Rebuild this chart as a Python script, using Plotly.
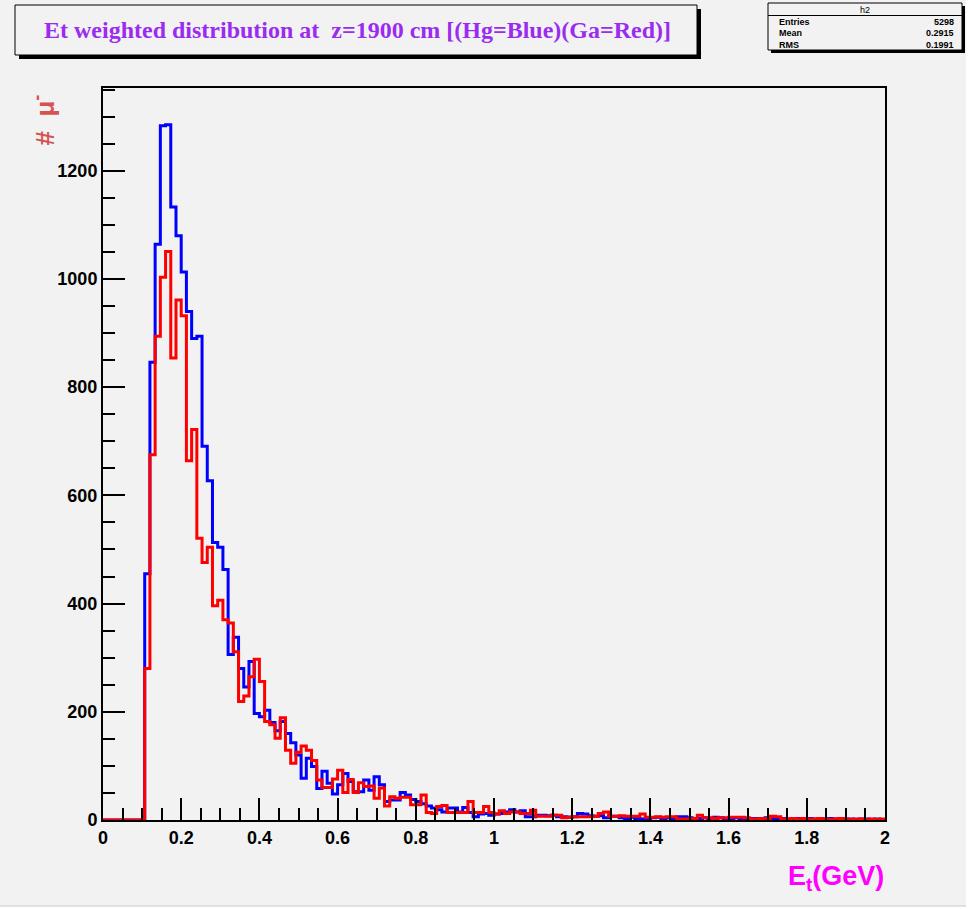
import plotly.graph_objects as go
import numpy as np

# ---------------- data ----------------
bin_lo, bin_hi, n_bins = 0.0, 2.0, 150

hg_blue = [0, 0, 0, 0, 0, 0, 0, 0,
           455, 846, 1064, 1283, 1285, 1133, 1080, 1013, 940, 890,
           894, 691, 627, 513, 504, 463, 306, 338, 280, 246,
           293, 197, 191, 203, 180, 165, 182, 160, 143, 120,
           77, 114, 99, 58, 90, 68, 48, 65, 86, 71,
           52, 52, 74, 55, 80, 65, 34, 37, 37, 51,
           46, 38, 34, 30, 26, 22, 19, 15, 22, 22,
           15, 23, 14, 6, 11, 12, 9, 11, 12, 15,
           19, 15, 17, 6, 6, 9, 9, 8, 9, 6,
           6, 5, 6, 12, 11, 8, 7, 8, 4, 7,
           7, 4, 3, 5, 3, 2, 3, 4, 5, 3,
           4, 3, 6, 6, 4, 3, 3, 4, 3, 5,
           4, 3, 2, 4, 3, 2, 3, 3, 2, 4,
           3, 2, 3, 2, 2, 3, 2, 3, 2, 1,
           2, 3, 2, 1, 2, 2, 1, 2, 2, 1,
           2, 1]

ga_red = [0, 0, 0, 0, 0, 0, 0, 0,
          280, 675, 894, 1003, 1051, 854, 961, 932, 664, 722,
          521, 476, 504, 396, 406, 370, 364, 311, 219, 229,
          265, 297, 256, 182, 176, 151, 189, 129, 105, 125,
          137, 129, 110, 74, 60, 60, 76, 92, 51, 75,
          51, 69, 62, 63, 40, 59, 26, 43, 40, 42,
          42, 28, 28, 46, 14, 12, 25, 27, 14, 14,
          14, 14, 34, 14, 14, 25, 14, 11, 17, 12,
          15, 15, 12, 12, 18, 7, 7, 7, 9, 9,
          4, 5, 6, 6, 6, 6, 7, 12, 15, 7,
          7, 8, 7, 7, 7, 11, 5, 5, 6, 5,
          6, 6, 2, 2, 2, 3, 9, 4, 4, 3,
          4, 4, 5, 5, 5, 4, 2, 2, 3, 2,
          7, 6, 2, 2, 3, 2, 3, 2, 2, 3,
          2, 1, 2, 3, 2, 1, 2, 2, 1, 2,
          1, 2]

y_ticks = [0, 200, 400, 600, 800, 1000, 1200]
x_ticks = [0, 0.2, 0.4, 0.6, 0.8, 1, 1.2, 1.4, 1.6, 1.8, 2]
x_tick_text = ["0", "0.2", "0.4", "0.6", "0.8", "1", "1.2", "1.4", "1.6", "1.8", "2"]

title_text = "Et weighted distribution at  z=1900 cm [(Hg=Blue)(Ga=Red)]"
stat_name = "h2"
stat_rows = [("Entries", "5298"), ("Mean", "0.2915"), ("RMS", "0.1991")]

# ---------------- layout helpers ----------------
W, H = 970, 909
L, R, T, B = 103, 885, 88, 820


def px(x):
    return (x - L) / (R - L)


def py(y):
    return (B - y) / (B - T)


edges = np.linspace(bin_lo, bin_hi, n_bins + 1)

fig = go.Figure()
for vals, col in [(hg_blue, "#0000ff"), (ga_red, "#ff0000")]:
    yv = list(vals) + [vals[-1]]
    fig.add_trace(go.Scatter(x=edges, y=yv, mode="lines",
                             line=dict(shape="hv", color=col, width=3),
                             showlegend=False, hoverinfo="skip"))

BG = "#f2f2f2"
tickfont = dict(family="Liberation Sans", size=18, color="black", weight="bold")

fig.update_layout(
    width=W, height=H,
    margin=dict(l=L, r=W - R, t=T, b=H - B, pad=0),
    paper_bgcolor="white",
    plot_bgcolor=BG,
    xaxis=dict(range=[bin_lo, bin_hi], tickvals=x_ticks, ticktext=x_tick_text,
               ticks="inside", ticklen=22, tickwidth=1.5, tickcolor="black",
               minor=dict(dtick=0.05, ticks="inside", ticklen=12, tickwidth=1.5, tickcolor="black"),
               showline=True, linecolor="black", linewidth=2, mirror=True,
               showgrid=False, zeroline=False, tickfont=tickfont),
    yaxis=dict(range=[0, 1353], tickvals=y_ticks,
               ticks="inside", ticklen=22, tickwidth=1.5, tickcolor="black",
               minor=dict(dtick=50, ticks="inside", ticklen=12, tickwidth=1.5, tickcolor="black"),
               showline=True, linecolor="black", linewidth=2, mirror=True,
               showgrid=False, zeroline=False, tickfont=tickfont),
)

shapes = []
# canvas background
shapes.append(dict(type="rect", xref="paper", yref="paper", x0=px(0), x1=px(966), y0=py(0), y1=py(906),
                   fillcolor=BG, line=dict(width=0), layer="below"))
shapes.append(dict(type="line", xref="paper", yref="paper", x0=px(0), x1=px(966), y0=py(906), y1=py(906),
                   line=dict(color="#c8c8c8", width=1), layer="below"))
# title box + shadow
shapes.append(dict(type="rect", xref="paper", yref="paper", x0=px(19), x1=px(701), y0=py(9), y1=py(59),
                   fillcolor="black", line=dict(width=0)))
shapes.append(dict(type="rect", xref="paper", yref="paper", x0=px(15), x1=px(697), y0=py(5), y1=py(55),
                   fillcolor=BG, line=dict(color="black", width=1)))
# stat box + shadow
shapes.append(dict(type="rect", xref="paper", yref="paper", x0=px(771), x1=px(965), y0=py(6), y1=py(53),
                   fillcolor="black", line=dict(width=0)))
shapes.append(dict(type="rect", xref="paper", yref="paper", x0=px(768), x1=px(962), y0=py(3), y1=py(50),
                   fillcolor=BG, line=dict(color="black", width=1)))
shapes.append(dict(type="line", xref="paper", yref="paper", x0=px(768), x1=px(962), y0=py(15.5), y1=py(15.5),
                   line=dict(color="black", width=1)))
fig.update_layout(shapes=shapes)

ann = []
ann.append(dict(text=title_text, xref="paper", yref="paper", x=px(357), y=py(30),
                xanchor="center", yanchor="middle", showarrow=False,
                font=dict(family="Liberation Serif", size=24, color="#9a2cf0", weight="bold")))
ann.append(dict(text=stat_name, xref="paper", yref="paper", x=px(865), y=py(9.5),
                xanchor="center", yanchor="middle", showarrow=False,
                font=dict(family="Liberation Sans", size=9, color="black")))
for i, (k, v) in enumerate(stat_rows):
    yy = 21.5 + i * 11.5
    ann.append(dict(text=k, xref="paper", yref="paper", x=px(777), y=py(yy),
                    xanchor="left", yanchor="middle", showarrow=False,
                    font=dict(family="Liberation Sans", size=9, color="black", weight="bold")))
    ann.append(dict(text=v, xref="paper", yref="paper", x=px(956), y=py(yy),
                    xanchor="right", yanchor="middle", showarrow=False,
                    font=dict(family="Liberation Sans", size=9, color="black", weight="bold")))
ann.append(dict(text="#  μ<sup>-</sup>", xref="paper", yref="paper", x=px(44), y=py(93),
                xanchor="center", yanchor="top", textangle=-90, showarrow=False,
                font=dict(family="Liberation Sans", size=26, color="#d65252", weight="bold")))
ann.append(dict(text="E<sub>t</sub>(GeV)", xref="paper", yref="paper", x=px(886), y=py(878),
                xanchor="right", yanchor="middle", showarrow=False,
                font=dict(family="Liberation Sans", size=27, color="#ff00ff", weight="bold")))
fig.update_layout(annotations=ann)

fig.write_html("out.html")
